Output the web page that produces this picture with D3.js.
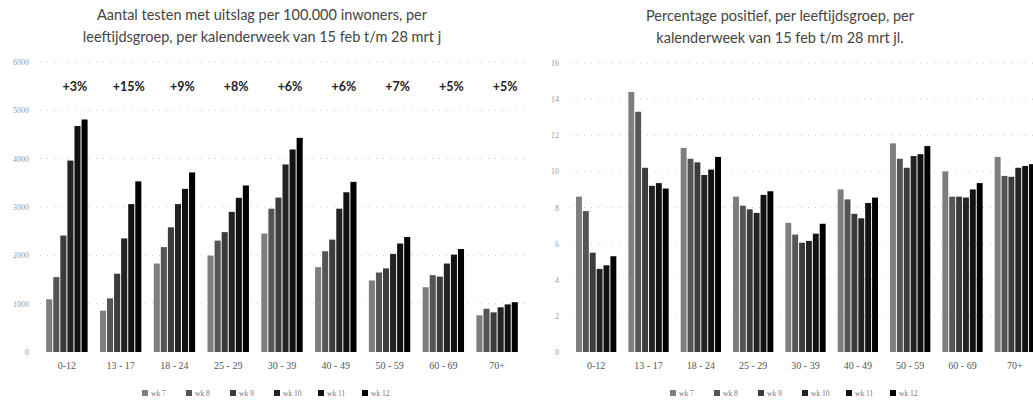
<!DOCTYPE html>
<html><head><meta charset="utf-8">
<script src="https://cdn.jsdelivr.net/npm/d3@7"></script>
<style>
body{margin:0;background:#fff;}
svg{display:block;font-family:Lato,"Open Sans",sans-serif;}
</style></head>
<body><svg id="c" width="1033" height="406"></svg>
<script>
const categories = ["0-12","13-17","18-24","25-29","30-39","40-49","50-59","60-69","70+"];
const weeks = ["wk 7","wk 8","wk 9","wk 10","wk 11","wk 12"];
const weekColors = ["#7e7e7e","#555555","#3c3c3c","#232323","#121212","#000000"];
// tests per 100.000 inwoners, per week (wk7..wk12)
const tests = [
  [1090,1550,2410,3960,4675,4810],
  [855,1110,1620,2350,3060,3530],
  [1830,2170,2580,3060,3375,3715],
  [1995,2305,2480,2900,3190,3445],
  [2450,2965,3195,3880,4190,4430],
  [1755,2085,2325,2965,3305,3520],
  [1480,1645,1730,2030,2245,2380],
  [1340,1590,1560,1830,2015,2130],
  [760,895,820,925,985,1030]
];
const growthLabels = ["+3%","+15%","+9%","+8%","+6%","+6%","+7%","+5%","+5%"];
// percentage positief per week (wk7..wk12)
const positive = [
  [8.6,7.8,5.5,4.6,4.8,5.3],
  [14.4,13.3,10.2,9.2,9.35,9.05],
  [11.3,10.7,10.5,9.8,10.1,10.8],
  [8.6,8.1,7.9,7.7,8.7,8.9],
  [7.15,6.5,6.05,6.15,6.55,7.1],
  [9.0,8.45,7.65,7.4,8.25,8.55],
  [11.55,10.7,10.2,10.85,10.95,11.4],
  [10.0,8.6,8.6,8.55,9.0,9.35],
  [10.8,9.75,9.7,10.2,10.3,10.4]
];
const leftTicks = [0,1000,2000,3000,4000,5000,6000];
const rightTicks = [0,2,4,6,8,10,12,14,16];
const leftTitle = ["Aantal testen met uitslag per 100.000 inwoners, per","leeftijdsgroep, per kalenderweek van 15 feb t/m 28 mrt j"];
const rightTitle = ["Percentage positief, per leeftijdsgroep, per","kalenderweek van 15 feb t/m 28 mrt jl."];

const svg = d3.select("#c");

function drawChart(cfg){
  const g = svg.append("g");
  const x = d3.scaleBand().domain(categories).range([cfg.x0,cfg.x1]).paddingInner(0.23).paddingOuter(0.115);
  const xi = d3.scaleBand().domain(weeks).range([0,x.bandwidth()]).paddingInner(0.14);
  const y = d3.scaleLinear().domain(cfg.domain).range([cfg.y0,cfg.y1]);
  const color = d3.scaleOrdinal().domain(weeks).range(weekColors);

  // gridlines
  g.append("g").selectAll("line").data(cfg.ticks.filter(t=>t>0)).join("line")
    .attr("x1",cfg.x0).attr("x2",cfg.x1).attr("y1",d=>y(d)).attr("y2",d=>y(d))
    .attr("stroke","#c8c8c8").attr("stroke-width",1).attr("stroke-dasharray","1,6");

  // y axis
  const ya = g.append("g").attr("transform",`translate(${cfg.x0-8},0)`)
    .call(d3.axisLeft(y).tickValues(cfg.ticks).tickSize(0).tickFormat(d=>String(d)));
  ya.select(".domain").remove();
  ya.selectAll("text").attr("fill","#9a9a9a").attr("font-size",8).attr("font-family","'Liberation Serif',serif");

  // bars
  const grp = g.append("g").selectAll("g").data(cfg.data).join("g")
    .attr("transform",(d,i)=>`translate(${x(categories[i])},0)`);
  grp.selectAll("rect").data(d=>d.map((v,j)=>({w:weeks[j],v}))).join("rect")
    .attr("x",d=>xi(d.w)).attr("width",xi.bandwidth())
    .attr("y",d=>y(d.v)).attr("height",d=>y(0)-y(d.v))
    .attr("fill",d=>color(d.w));

  // x axis labels
  const xa = g.append("g").attr("transform",`translate(0,${cfg.y0+7})`)
    .call(d3.axisBottom(x).tickSize(0).tickFormat(d=>d.replace("-"," - ").replace("0 - 12","0-12")));
  xa.select(".domain").remove();
  xa.selectAll("text").attr("fill","#555").attr("font-size",10).attr("font-family","'Liberation Serif',serif");

  // title
  g.append("g").selectAll("text").data(cfg.title).join("text")
    .attr("x",cfg.titleX).attr("y",(d,i)=>cfg.titleY+i*22)
    .attr("text-anchor","middle").attr("font-size",14.5).attr("fill","#444").text(d=>d);

  // legend
  const lg = g.append("g").attr("transform",`translate(${cfg.legendX},${cfg.legendY})`);
  const item = lg.selectAll("g").data(weeks).join("g")
    .attr("transform",(d,i)=>`translate(${i*44},0)`);
  item.append("rect").attr("x",0).attr("y",-6).attr("width",6).attr("height",6).attr("fill",d=>color(d));
  item.append("text").attr("x",9).attr("y",0).attr("font-size",7.5).attr("fill","#777")
    .attr("font-family","'Liberation Serif',serif").text(d=>d);

  return {g,x,y};
}

const L = drawChart({x0:40,x1:524,y0:352,y1:62,domain:[0,6000],ticks:leftTicks,data:tests,
  title:leftTitle,titleX:262,titleY:20,legendX:142,legendY:396});
L.g.append("g").selectAll("text").data(growthLabels).join("text")
  .attr("x",(d,i)=>L.x(categories[i])+L.x.bandwidth()*0.5+8)
  .attr("y",91).attr("text-anchor","middle").attr("font-weight","bold")
  .attr("font-size",12.5).attr("fill","#222").text(d=>d);

drawChart({x0:570,x1:1041,y0:352,y1:63,domain:[0,16],ticks:rightTicks,data:positive,
  title:rightTitle,titleX:780,titleY:21,legendX:670,legendY:396});
</script>
</body></html>
